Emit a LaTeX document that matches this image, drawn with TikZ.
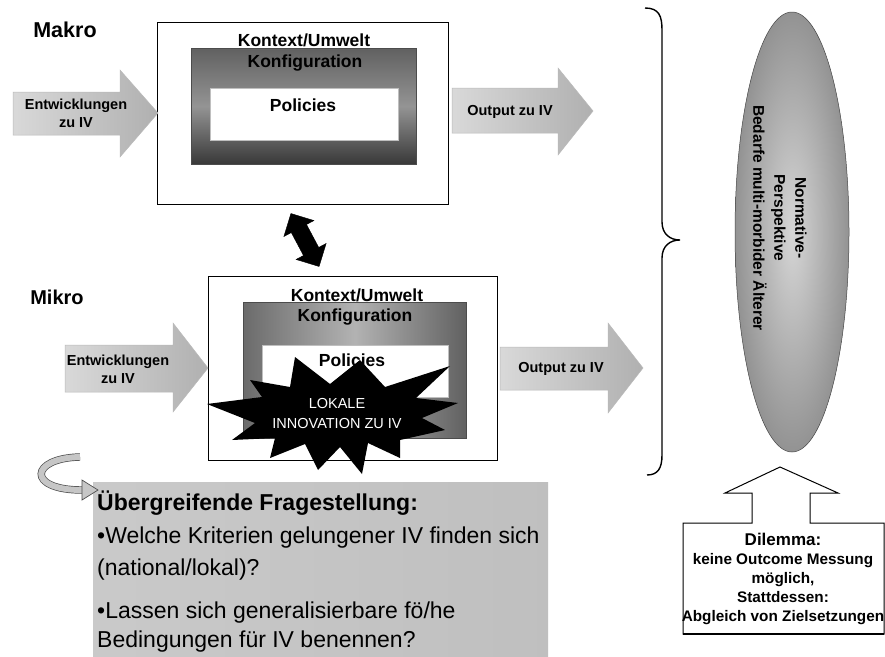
\documentclass[tikz,border=0pt]{standalone}
\usepackage{fontspec}
\setmainfont{Liberation Sans}
\usetikzlibrary{shapes.arrows,shapes.geometric,arrows.meta}
\tikzset{
  lvl/.style={font=\bfseries\fontsize{21.5}{24}\selectfont, inner sep=0pt},
  intxt/.style={font=\bfseries\fontsize{17.5}{20}\selectfont, inner sep=0pt},
  arrtxt/.style={font=\bfseries\fontsize{14.5}{18}\selectfont, align=center, inner sep=0pt},
  outerbox/.style={draw=black, line width=1.2pt, fill=white, anchor=north west, inner sep=0pt},
  konfbox/.style={draw=black!70, line width=0.6pt, anchor=north west, inner sep=0pt},
  polbox/.style={fill=white, draw=gray!50, line width=0.5pt, anchor=north west, inner sep=0pt},
  fatarr/.style={left color=gray!30, right color=gray!62, draw=gray!55, line width=0.5pt},
  qtxt/.style={font=\fontsize{23}{26}\selectfont, anchor=base west, inner sep=0pt},
}
\begin{document}
\begin{tikzpicture}[x=1pt,y=-1pt]
\useasboundingbox (0,0) rectangle (885,656);
\fill[white] (0,0) rectangle (885,656);

% ---------- Makro ----------
\node[lvl] (makrolbl) at (65,30) {Makro};
\node[outerbox, minimum width=291pt, minimum height=182pt] (makro) at (157,22) {};
\node[konfbox, minimum width=225pt, minimum height=116pt,
      top color=black!62, bottom color=black!78, middle color=black!42] (konf1) at (191,48) {};
\node[polbox, minimum width=188pt, minimum height=52pt] (pol1) at (210,88) {};
\node[intxt] (kon1) at (304,40) {Kontext/Umwelt};
\node[intxt] (kfg1) at (305,63) {Konfiguration};
\node[intxt] (pt1) at (303,105) {Policies};

\shade[fatarr] (13,92) -- (120,92) -- (120,70) -- (158,113) -- (120,157) -- (120,135) -- (13,135) -- cycle;
\node[arrtxt] (ein1) at (76,113) {Entwicklungen\\zu IV};
\shade[fatarr] (452,88) -- (558,88) -- (558,68) -- (593,111) -- (558,155) -- (558,133) -- (452,133) -- cycle;
\node[arrtxt] (out1) at (510,112) {Output zu IV};

% ---------- double arrow ----------
\node[double arrow, fill=black, draw=black, minimum height=60pt, minimum width=34pt,
      double arrow head extend=8pt, inner sep=8pt, rotate=-62] (dbl) at (305,240) {};

% ---------- Mikro ----------
\node[lvl, font=\bfseries\fontsize{20}{24}\selectfont] (mikrolbl) at (57,297) {Mikro};
\node[outerbox, minimum width=289pt, minimum height=184pt] (mikro) at (208,276) {};
\node[konfbox, minimum width=223pt, minimum height=136pt,
      left color=black!58, right color=black!62, middle color=black!30] (konf2) at (243,302) {};
\node[polbox, minimum width=186pt, minimum height=52pt] (pol2) at (262,345) {};
\node[intxt] (kon2) at (357,295) {Kontext/Umwelt};
\node[intxt] (kfg2) at (355,317) {Konfiguration};
\node[intxt] (pt2) at (352,360) {Policies};

\shade[fatarr] (65,345) -- (173,345) -- (173,323) -- (208,368) -- (173,412) -- (173,392) -- (65,392) -- cycle;
\node[arrtxt] (ein2) at (118,369) {Entwicklungen\\zu IV};
\shade[fatarr] (500,347) -- (608,347) -- (608,323) -- (643,368) -- (608,413) -- (608,390) -- (500,390) -- cycle;
\node[arrtxt] (out2) at (561,369) {Output zu IV};

% starburst
\fill[black] (207,404) -- (262,397) -- (250,380) -- (290,387) -- (295,357) -- (330,384)
  -- (360,360) -- (385,387) -- (450,366) -- (416,398) -- (458,403) -- (422,418)
  -- (445,430) -- (400,440) -- (400,458) -- (368,443) -- (362,474) -- (340,447)
  -- (318,470) -- (305,444) -- (270,458) -- (275,438) -- (232,440) -- (255,423) -- cycle;
\node[font=\fontsize{14.5}{20}\selectfont, text=white, align=center, inner sep=0pt] (lok) at (337,414)
  {LOKALE\\INNOVATION ZU IV};

% ---------- brace ----------
\draw[line width=1.4pt] (645,8) .. controls (659,8) and (662,16) .. (662,30) -- (662,222)
  .. controls (662,234) and (670,240) .. (680,240)
  .. controls (670,240) and (662,246) .. (662,258) -- (662,455)
  .. controls (662,468) and (658,475) .. (647,475);

% ---------- ellipse ----------
\node[ellipse, minimum width=114pt, minimum height=440pt, inner color=gray!32, outer color=gray!85,
      draw=gray!55!black, line width=0.5pt] (ell) at (792,232) {};
\node[rotate=-90, align=center, font=\bfseries\fontsize{15.5}{21}\selectfont, inner sep=0pt] (elltxt)
  at (780,218) {Normative-\\Perspektive\\Bedarfe multi-morbider Älterer};

% ---------- question box ----------
\shade[left color=gray!42, middle color=gray!14, right color=gray!50] (93,482) rectangle (548,656);
\node[qtxt, font=\bfseries\fontsize{23}{26}\selectfont] (q0) at (97,510) {Übergreifende Fragestellung:};
\node[qtxt] (q1) at (97,543) {•Welche Kriterien gelungener IV finden sich};
\node[qtxt] (q2) at (97,575) {(national/lokal)?};
\node[qtxt] (q3) at (97,618) {•Lassen sich generalisierbare fö/he};
\node[qtxt] (q4) at (97,647) {Bedingungen für IV benennen?};

% curved arrow
\coordinate (ca1) at (80,457);
\coordinate (ca2) at (82,490);
\draw[double=gray!45, double distance=6pt, line width=0.7pt, draw=black!70]
  (ca1) .. controls (30,458) and (26,490) .. (ca2);
\filldraw[fill=gray!45, draw=black!70, line width=0.7pt] (82,480) -- (98,490) -- (82,500) -- cycle;

% ---------- dilemma ----------
\draw[line width=1pt, fill=white] (683,523) -- (752,523) -- (752,493) -- (725,493) -- (780,467)
  -- (838,493) -- (810,493) -- (810,523) -- (884,523) -- (884,634) -- (683,634) -- cycle;
\draw[line width=2pt] (683,634) -- (884,634);
\node[align=center, inner sep=0pt, font=\bfseries\fontsize{15.3}{19}\selectfont] (dil) at (783,579)
  {{\fontsize{17}{19}\selectfont Dilemma:}\\keine Outcome Messung\\möglich,\\Stattdessen:\\Abgleich von Zielsetzungen};
\end{tikzpicture}
\end{document}
